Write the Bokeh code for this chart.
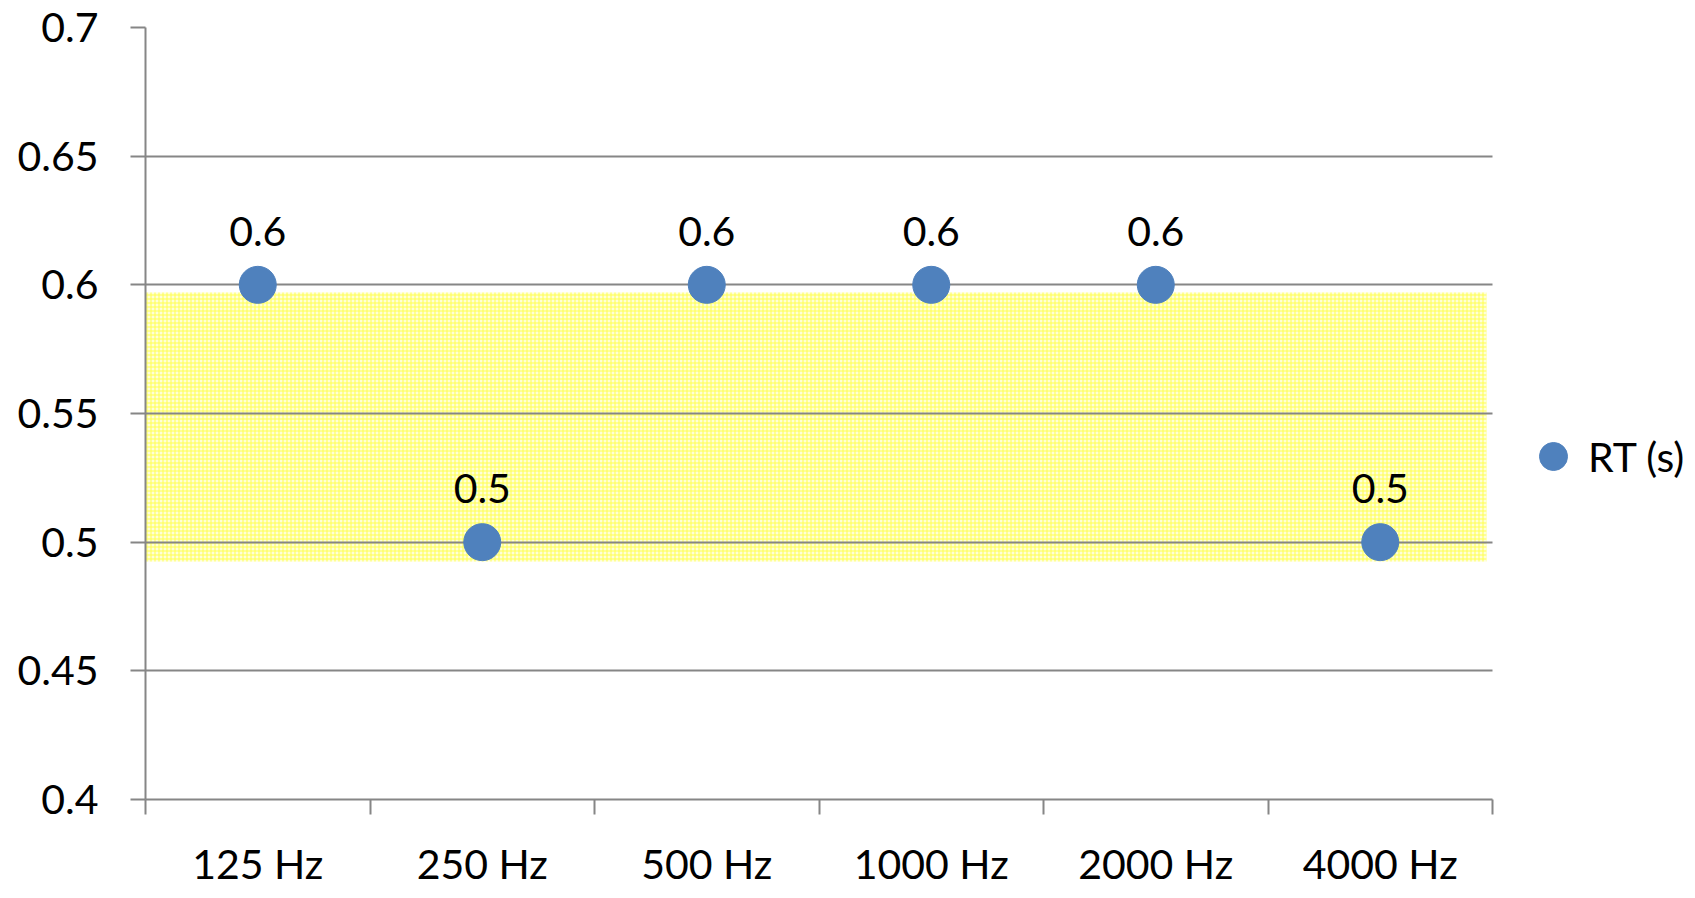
from bokeh.plotting import figure
from bokeh.models import (ColumnDataSource, FixedTicker, Legend, LegendItem,
                          BoxAnnotation, LabelSet)
from bokeh.core.properties import value
from bokeh.embed import file_html
from bokeh.resources import INLINE

categories = ["125 Hz", "250 Hz", "500 Hz", "1000 Hz", "2000 Hz", "4000 Hz"]
rt_values = [0.6, 0.5, 0.6, 0.6, 0.6, 0.5]
y_ticks = [0.4, 0.45, 0.5, 0.55, 0.6, 0.65, 0.7]
band_bottom, band_top = 0.4925, 0.597

FONT = "Lato"
FS = "41px"
GRAY = "#868686"
BLUE = "#4F81BD"

W, H = 1687, 890
FRAME_L, FRAME_T, AXIS_R, FRAME_B = 145, 27, 1492, 802
n = len(categories)
x_end = n * (W - FRAME_L) / (AXIS_R - FRAME_L)   # extra room on the right for the legend

xs = [i + 0.5 for i in range(n)]
src = ColumnDataSource(dict(x=xs, y=rt_values, lab=[f"{v:g}" for v in rt_values]))

p = figure(width=W, height=H, x_range=(0, x_end), y_range=(0.4, 0.7),
           output_backend="svg", toolbar_location=None,
           min_border_left=FRAME_L, min_border_top=FRAME_T, min_border_right=0,
           min_border_bottom=H - FRAME_B)
p.outline_line_color = None
p.background_fill_color = "white"

band = BoxAnnotation(left=-0.03, right=n - 0.027,
                     bottom=band_bottom, top=band_top,
                     fill_color="#FFFFD8", fill_alpha=1.0,
                     hatch_pattern="+", hatch_color="#FFFF50", hatch_scale=4,
                     hatch_weight=1, line_color=None, level="image")
p.add_layout(band)

r = p.scatter("x", "y", source=src, size=37, color=BLUE, line_color=BLUE)

labels = LabelSet(x="x", y="y", text="lab", source=src, text_align="center",
                  text_baseline="alphabetic", y_offset=39,
                  text_font=value(FONT), text_font_size=FS, text_color="black")
p.add_layout(labels)

# x axis
p.xaxis.bounds = (0, n)
p.xaxis.ticker = FixedTicker(ticks=xs, minor_ticks=list(range(n + 1)))
p.xaxis.major_label_overrides = {x: c for x, c in zip(xs, categories)}
p.xaxis.major_tick_out = 0
p.xaxis.major_tick_in = 0
p.xaxis.minor_tick_out = 15
p.xaxis.minor_tick_in = 0
p.xaxis.minor_tick_line_color = GRAY
p.xaxis.minor_tick_line_width = 2
p.xaxis.major_label_standoff = 24
p.xaxis.major_label_text_font = FONT
p.xaxis.major_label_text_font_size = FS
p.xaxis.major_label_text_color = "black"
p.xaxis.axis_line_color = GRAY
p.xaxis.axis_line_width = 2

# y axis
p.yaxis.ticker = FixedTicker(ticks=y_ticks)
p.yaxis.major_label_overrides = {t: f"{t:g}" for t in y_ticks}
p.yaxis.major_tick_out = 15
p.yaxis.major_tick_in = 0
p.yaxis.minor_tick_line_color = None
p.yaxis.major_tick_line_color = GRAY
p.yaxis.major_tick_line_width = 2
p.yaxis.major_label_standoff = 32
p.yaxis.major_label_text_font = FONT
p.yaxis.major_label_text_font_size = FS
p.yaxis.major_label_text_color = "black"
p.yaxis.axis_line_color = GRAY
p.yaxis.axis_line_width = 2

p.xgrid.grid_line_color = None
p.ygrid.ticker = FixedTicker(ticks=y_ticks)
p.ygrid.cross_bounds = (0, n)
p.ygrid.grid_line_color = GRAY
p.ygrid.grid_line_width = 2

legend = Legend(items=[LegendItem(label="RT (s)", renderers=[r])],
                location=(1373, 308), glyph_width=70, glyph_height=70,
                label_standoff=-28, padding=0, margin=0, spacing=0,
                border_line_color=None, background_fill_alpha=0,
                label_text_font=FONT, label_text_font_size=FS,
                label_text_color="black", label_height=70)
p.add_layout(legend)

open("out.html", "w").write(file_html(p, INLINE))
